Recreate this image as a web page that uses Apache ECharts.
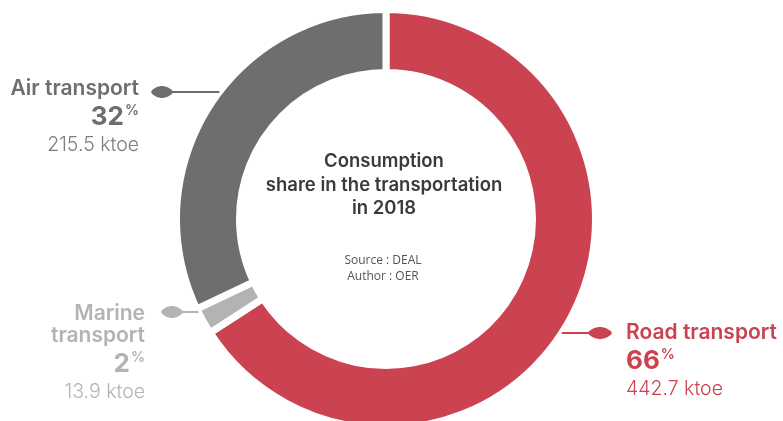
<!DOCTYPE html>
<html>
<head>
<meta charset="utf-8">
<script src="https://cdn.jsdelivr.net/npm/echarts@6/dist/echarts.min.js"></script>
<style>
html,body{margin:0;padding:0;background:#fff;}
#chart{width:783px;height:421px;}
</style>
</head>
<body>
<div id="chart"></div>
<script>
// ---- data ----
const categories = ['Road transport', 'Marine transport', 'Air transport'];
const values = [442.7, 13.9, 215.5];
const labelNameLines = [['Road transport'], ['Marine', 'transport'], ['Air transport']];
const unit = 'ktoe';
const titleLines = ['Consumption', 'share in the transportation', 'in 2018'];
const creditLines = ['Source : DEAL', 'Author : OER'];

// ---- styling / layout ----
const sliceColors = ['#cb4250', '#b3b3b3', '#6e6e6e'];
const valueColors = ['#cb4250', '#b3b3b3', '#7d7d7d'];
const CX = 386, CY = 219, R_OUT = 209.5, R_IN = 146.5, GAP = 7;
const labelPos = [
  {x: 626, y: 322, align: 'left', ly: 333, leafA: 588, leafB: 612, side: 1},
  {x: 145, y: 303, align: 'right', ly: 312, leafA: 161, leafB: 183, side: -1},
  {x: 139, y: 78, align: 'right', ly: 92, leafA: 151, leafB: 173, side: -1}
];
const FONT = 'Inter, "Noto Sans", sans-serif';

const rich = {};
sliceColors.forEach((c, i) => {
  const al = labelPos[i].align;
  rich['n' + i] = {fontFamily: FONT, fontWeight: 600, fontSize: 21, color: c, lineHeight: 22, align: al};
  rich['p' + i] = {fontFamily: FONT, fontWeight: 700, fontSize: 26, color: c, lineHeight: 34, align: al};
  rich['s' + i] = {fontFamily: FONT, fontWeight: 600, fontSize: 14, color: c, lineHeight: 34, verticalAlign: 'top', padding: [4, 0, 0, 1], align: al};
  rich['v' + i] = {fontFamily: FONT, fontWeight: 300, fontSize: 19.5, color: valueColors[i], lineHeight: 22, align: al};
});

function ringX(i) {
  const dy = labelPos[i].ly - CY;
  return CX + labelPos[i].side * Math.sqrt(R_OUT * R_OUT - dy * dy);
}

// leaf-shaped marker outline
function leafPoints(p) {
  const pts = [];
  const L = p.leafB - p.leafA, H = 6, N = 20;
  const f = t => H * Math.pow(Math.sin(Math.PI * t), 0.7);
  for (let k = 0; k <= N; k++) pts.push([k / N, -f(k / N)]);
  for (let k = N - 1; k >= 1; k--) pts.push([k / N, f(k / N)]);
  return pts.map(([t, y]) => [p.leafA + t * L, p.ly + y]);
}

const graphics = [];
labelPos.forEach((p, i) => {
  const x0 = ringX(i);
  const x1 = p.side < 0 ? p.leafB - 2 : p.leafA + 2;
  graphics.push({
    type: 'line', z: 10,
    shape: {x1: x0, y1: p.ly, x2: x1, y2: p.ly},
    style: {stroke: sliceColors[i], lineWidth: 2}
  });
  graphics.push({
    type: 'polygon', z: 11,
    shape: {points: leafPoints(p)},
    style: {fill: sliceColors[i]}
  });
});
graphics.push({
  type: 'text', x: 384, y: 150, z: 10,
  style: {text: titleLines.join('\n'), textAlign: 'center', textVerticalAlign: 'top', font: '600 18.5px ' + FONT, fill: '#3a3a3a', lineHeight: 23.5}
});
graphics.push({
  type: 'text', x: 383, y: 253, z: 10,
  style: {text: creditLines.join('\n'), textAlign: 'center', textVerticalAlign: 'top', font: '12px "Open Sans", sans-serif', fill: '#555', lineHeight: 16}
});

const chart = echarts.init(document.getElementById('chart'), null, {renderer: 'canvas'});
chart.setOption({
  animation: false,
  backgroundColor: '#fff',
  graphic: graphics,
  series: [{
    type: 'pie',
    center: [CX, CY],
    radius: [R_IN, R_OUT],
    startAngle: 90,
    clockwise: true,
    avoidLabelOverlap: false,
    itemStyle: {borderColor: '#fff', borderWidth: GAP},
    emphasis: {disabled: true},
    data: categories.map((c, i) => ({name: c, value: values[i], itemStyle: {color: sliceColors[i]}})),
    label: {
      show: true,
      position: 'outside',
      formatter: function (p) {
        const i = p.dataIndex;
        const names = labelNameLines[i].map(s => '{n' + i + '|' + s + '}').join('\n');
        return names + '\n{p' + i + '|' + Math.round(p.percent) + '}{s' + i + '|%}\n{v' + i + '|' + p.value + ' ' + unit + '}';
      },
      rich: rich
    },
    labelLine: {show: false},
    labelLayout: function (params) {
      const p = labelPos[params.dataIndex];
      return {x: p.x, y: p.y, align: p.align, verticalAlign: 'top'};
    }
  }]
});
</script>
</body>
</html>
